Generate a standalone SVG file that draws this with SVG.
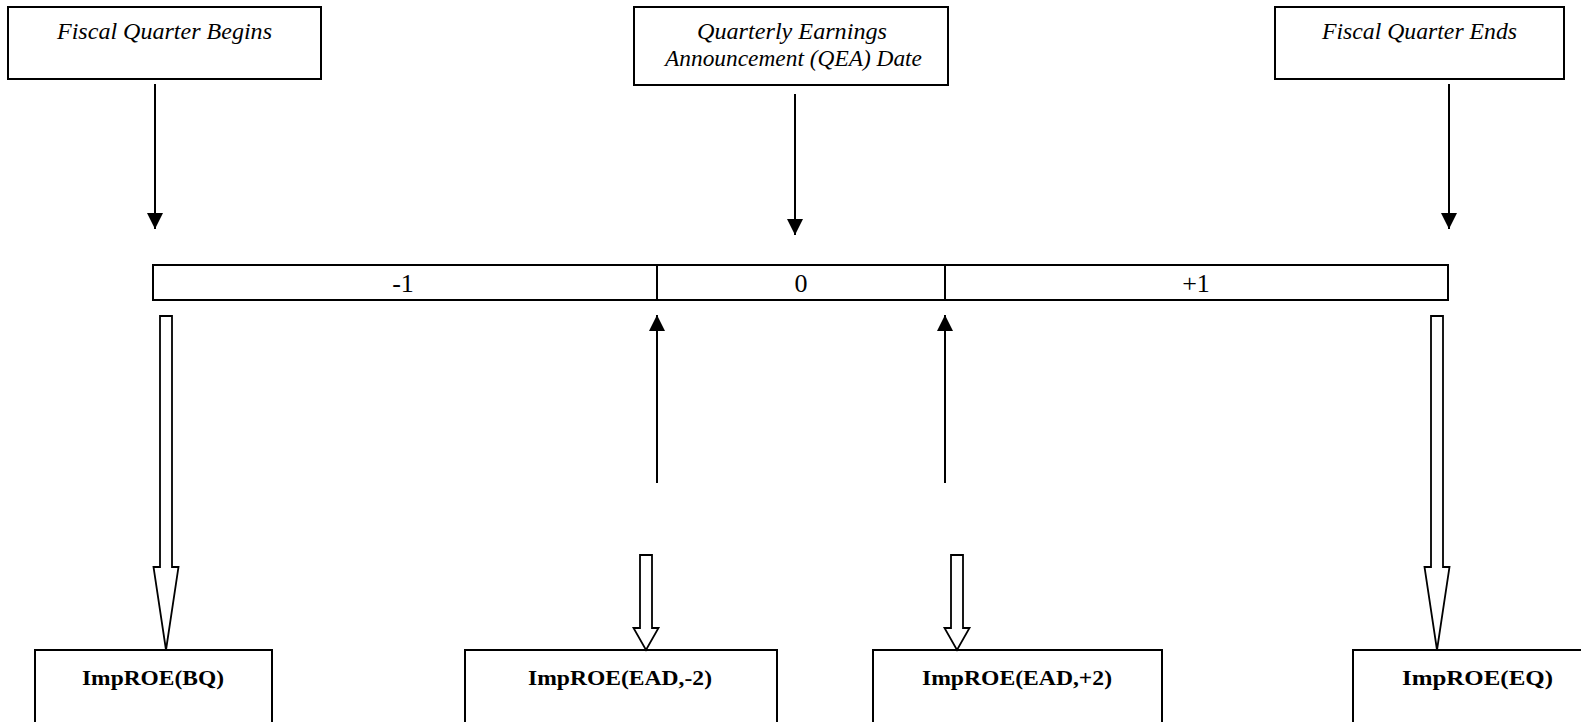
<svg xmlns="http://www.w3.org/2000/svg" width="1581" height="722" viewBox="0 0 1581 722">
<style>
  .box{fill:#fff;stroke:#000;stroke-width:2}
  .it{font-family:"Liberation Serif","Times New Roman",serif;font-style:italic;font-size:22.5px;fill:#000;text-anchor:middle}
  .bd{font-family:"Liberation Serif","Times New Roman",serif;font-weight:bold;font-size:22px;fill:#000;text-anchor:middle}
  .rg{font-family:"Liberation Serif","Times New Roman",serif;font-size:26px;fill:#000;text-anchor:middle}
  .ln{stroke:#000;stroke-width:2;fill:none}
  .hollow{fill:#fff;stroke:#000;stroke-width:1.8;stroke-linejoin:miter}
</style>
<defs>
  <marker id="ah" markerUnits="userSpaceOnUse" markerWidth="17" markerHeight="17" refX="16" refY="8" orient="auto">
    <path d="M0,0 L16,8 L0,16 Z" fill="#000"/>
  </marker>
</defs>
<rect width="1581" height="722" fill="#fff"/>

<g id="fq-begins">
  <rect class="box" x="8" y="7" width="313" height="72"/>
  <text class="it" x="164.5" y="39" textLength="215" lengthAdjust="spacingAndGlyphs">Fiscal Quarter Begins</text>
</g>
<g id="qea-date">
  <rect class="box" x="634" y="7" width="314" height="78"/>
  <text class="it" x="792" y="39" textLength="190" lengthAdjust="spacingAndGlyphs">Quarterly Earnings</text>
  <text class="it" x="793.5" y="66" textLength="257" lengthAdjust="spacingAndGlyphs">Announcement (QEA) Date</text>
</g>
<g id="fq-ends">
  <rect class="box" x="1275" y="7" width="289" height="72"/>
  <text class="it" x="1419.5" y="39" textLength="195" lengthAdjust="spacingAndGlyphs">Fiscal Quarter Ends</text>
</g>

<g id="timeline">
  <rect class="box" x="153" y="265" width="1295" height="35"/>
  <line class="ln" x1="657" y1="265" x2="657" y2="300"/>
  <line class="ln" x1="945" y1="265" x2="945" y2="300"/>
  <text class="rg" x="403" y="292">-1</text>
  <text class="rg" x="801" y="292">0</text>
  <text class="rg" x="1196" y="292">+1</text>
</g>

<g id="imp-bq">
  <rect class="box" x="35" y="650" width="237" height="100"/>
  <text class="bd" x="153" y="685" textLength="142" lengthAdjust="spacingAndGlyphs">ImpROE(BQ)</text>
</g>
<g id="imp-ead-m2">
  <rect class="box" x="465" y="650" width="312" height="100"/>
  <text class="bd" x="620" y="685" textLength="184" lengthAdjust="spacingAndGlyphs">ImpROE(EAD,-2)</text>
</g>
<g id="imp-ead-p2">
  <rect class="box" x="873" y="650" width="289" height="100"/>
  <text class="bd" x="1017" y="685" textLength="190" lengthAdjust="spacingAndGlyphs">ImpROE(EAD,+2)</text>
</g>
<g id="imp-eq">
  <rect class="box" x="1353" y="650" width="260" height="100"/>
  <text class="bd" x="1477.5" y="685" textLength="151" lengthAdjust="spacingAndGlyphs">ImpROE(EQ)</text>
</g>

<g id="connectors">
  <line class="ln" x1="155" y1="84" x2="155" y2="229" marker-end="url(#ah)"/>
  <line class="ln" x1="795" y1="94" x2="795" y2="235" marker-end="url(#ah)"/>
  <line class="ln" x1="1449" y1="84" x2="1449" y2="229" marker-end="url(#ah)"/>
  <line class="ln" x1="657" y1="483" x2="657" y2="315" marker-end="url(#ah)"/>
  <line class="ln" x1="945" y1="483" x2="945" y2="315" marker-end="url(#ah)"/>
  <polygon class="hollow" points="160,316 172,316 172,567 178.5,567 166,650 153.5,567 160,567"/>
  <polygon class="hollow" points="1431,316 1443,316 1443,567 1449.5,567 1437,650 1424.5,567 1431,567"/>
  <polygon class="hollow" points="640,555 652,555 652,628 658.5,628 646,650 633.5,628 640,628"/>
  <polygon class="hollow" points="951,555 963,555 963,628 969.5,628 957,650 944.5,628 951,628"/>
</g>
</svg>
